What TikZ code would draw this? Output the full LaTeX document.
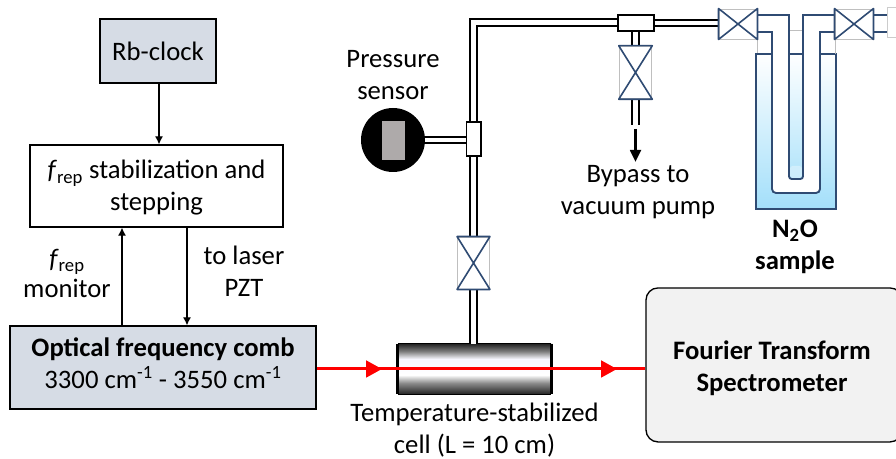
\documentclass[tikz,border=0pt]{standalone}
\usepackage{fontspec}
\setmainfont{Carlito}
\usetikzlibrary{arrows.meta, positioning}

\definecolor{boxblue}{HTML}{D6DCE5}
\definecolor{ftsgray}{HTML}{F2F2F2}
\definecolor{tubeblue}{HTML}{2F4B73}
\definecolor{dewarblue}{HTML}{A3DFFA}
\definecolor{sensorgray}{HTML}{AEAAAA}

\pgfdeclareverticalshading{cellshade}{100bp}{
  color(0bp)=(black!85); color(25bp)=(black!85); color(36bp)=(black!45);
  color(44bp)=(white); color(60bp)=(blue!3);
  color(67.5bp)=(black!50); color(75bp)=(black!85); color(100bp)=(black!85)}

\tikzset{
  txt/.style={font=\fontsize{20}{24}\selectfont, align=center, inner sep=0pt},
  box/.style={txt, draw, line width=1pt, inner sep=0pt},
  sig/.style={-{Latex[length=6pt,width=6pt]}, line width=.8pt},
  pipe/.style={double, line width=1.4pt, double distance=3.4pt},
  tee/.style={draw, fill=white, line width=1pt, inner sep=0pt},
  valve/.style={draw=black!25, fill=white, line width=.7pt, inner sep=0pt},
  tube/.style={draw=tubeblue, line width=1.4pt},
  beam/.style={red, line width=2.2pt},
  beamtip/.style={beam, -{Triangle[length=12pt,width=12.5pt]}},
}

\begin{document}
\begin{tikzpicture}[x=.75pt, y=-.75pt, on grid]
  \useasboundingbox (0,0) rectangle (896,459);

  % left column
  \node[box, fill=boxblue, minimum width=87pt, minimum height=48pt] (rb) at (158,51) {Rb-clock};
  \node[box, minimum width=189.75pt, minimum height=61.5pt, below=101.25pt of rb, xshift=-1.1pt] (stab) {};
  \node[txt, below=1.5pt of stab] (stabtxt)
    {\textit{f}\textsubscript{rep} stabilization and\\stepping};
  \node[box, fill=boxblue, minimum width=229.5pt, minimum height=62.25pt, below=136.1pt of stab, xshift=4.9pt] (comb) {};
  \node[txt, below=-3pt of comb] (combtxt)
    {\textbf{Optical frequency comb}\\3300 cm\textsuperscript{-1} - 3550 cm\textsuperscript{-1}};
  \coordinate (mon) at (122,0);
  \coordinate (pzt) at (187,0);
  \draw[sig] (rb.south -| 159,0) -- (stab.north -| 159,0);
  \draw[sig] (mon |- comb.north) -- (mon |- stab.south);
  \draw[sig] (pzt |- stab.south) -- (pzt |- comb.north);
  \node[txt] (frep) at (67,262) {\textit{f}\textsubscript{rep}};
  \node[txt] (mont) at (67,288) {monitor};
  \node[txt] (laser) at (244,271) {to laser\\PZT};

  % cell and spectrometer
  \node[draw=none, shading=cellshade, minimum width=114.75pt, minimum height=37.5pt, inner sep=0pt,
    right=233.6pt of comb, yshift=-1.1pt] (cell) {};
  \draw[line width=2pt] (cell.north west) -- (cell.south west) (cell.north east) -- (cell.south east);
  \draw[line width=.8pt] (cell.north west) -- (cell.north east) (cell.south west) -- (cell.south east);
  \node[txt, below=46pt of cell] (celltxt) {Temperature-stabilized\\cell (L = 10 cm)};
  \node[box, fill=ftsgray, rounded corners=9pt, minimum width=192pt, minimum height=115.5pt,
    right=224.6pt of cell, yshift=3pt] (fts) {};
  \node[txt, below=2.5pt of fts, xshift=-1.5pt] (ftstxt) {\textbf{Fourier Transform}\\\textbf{Spectrometer}};
  \coordinate (tipa) at (382,369);
  \coordinate (tipb) at (617,369);
  \draw[beam] (comb.east |- cell) -- (fts.west |- cell);
  \draw[beamtip] (tipa -| 360,0) -- (tipa);
  \draw[beamtip] (tipb -| 595,0) -- (tipb);

  % gas line
  \node[valve, minimum width=24pt, minimum height=39pt] (valvec) at (473.5,263) {};
  \node[tee, minimum width=11pt, minimum height=25.5pt] (teev) at (473.5,139) {};
  \node[tee, minimum width=27pt, minimum height=12pt] (teeh) at (636,23) {};
  \node[valve, minimum width=24.5pt, minimum height=39.5pt] (valveb) at (635.5,72.5) {};
  \node[valve, minimum width=28.5pt, minimum height=22.5pt] (valvel) at (738,24) {};
  \node[valve, minimum width=28.5pt, minimum height=22.5pt] (valver) at (854,24) {};
  \node[circle, fill=black, minimum size=48pt, inner sep=0pt] (sensor) at (393,140) {};
  \node[fill=sensorgray, minimum width=17.25pt, minimum height=29.25pt, inner sep=0pt] (gauge) at (393.5,140.5) {};
  \node[txt] (senstxt) at (393,75) {Pressure\\sensor};
  \coordinate (corner) at (473.5,22.5);
  \coordinate (bypass) at (635.5,125);
  \coordinate (pumpa) at (635.5,129);
  \coordinate (pumpb) at (635.5,162);
  \draw[pipe] (valvec.south) -- (valvec.south |- cell.north);
  \draw[pipe] (valvec.north) -- (teev.south);
  \draw[pipe] (teev.north) -- (corner) -- (corner -| teeh.west);
  \draw[pipe] (sensor.east) -- (sensor.east -| teev.west);
  \draw[pipe] (teeh.east) -- (teeh.east -| valvel.west);
  \draw[pipe] (teeh.south -| valveb) -- (valveb.north);
  \draw[pipe] (valveb.south) -- (bypass);
  \draw[line width=2pt, -{Triangle[length=9pt,width=8pt]}] (pumpa) -- (pumpb);
  \node[txt] (pumptxt) at (638,192) {Bypass to\\vacuum pump};

  % sample
  \node[draw=tubeblue, line width=1.4pt, top color=white, bottom color=dewarblue, minimum width=60pt,
    minimum height=116.25pt, inner sep=0pt] (dewar) at (796,131.5) {};
  \node[draw=black!25, line width=.7pt, fill=white, minimum width=10.5pt, minimum height=18pt, inner sep=0pt] (neck) at (796,42) {};
  \fill[white] (772,32) -- (772,187) [rounded corners=3pt] -- (772,193) -- (820,193) [sharp corners] -- (820,32) -- cycle;
  \fill[white] (757,39) rectangle (772,54) (820,39) rectangle (835,54);
  \draw[draw=black!25, line width=.7pt] (757,39) -- (757,54) (835,39) -- (835,54) (789,30) -- (803,30);
  \fill[top color=white, bottom color=dewarblue!85!white, rounded corners=2pt] (789,54) rectangle (803,179);
  \fill[white, opacity=.35, rounded corners=2pt] (790,166) rectangle (802,178);
  \draw[tube] (valvel.east |- 0,15) -- (789,15) -- (789,54) (valvel.east |- 0,32) -- (772,32) -- (772,54);
  \draw[tube, rounded corners=3pt] (772,54) -- (772,193) -- (820,193) -- (820,54);
  \draw[tube, rounded corners=2pt] (789,54) -- (789,179) -- (803,179) -- (803,54);
  \draw[tube] (valver.west |- 0,15) -- (803,15) -- (803,54) (valver.west |- 0,32) -- (820,32) -- (820,54);
  \draw[tube] (772,54) -- (757,54) (789,54) -- (803,54) (820,54) -- (835,54);
  \node[draw=black!20, line width=.7pt, fill=white, minimum width=18pt, minimum height=22pt, inner sep=0pt] (stub) at (899,22.5) {};
  \draw[tube] (valver.east |- 0,15) -- (stub.west |- 0,15) (valver.east |- 0,32) -- (stub.west |- 0,32);
  \node[txt] (sampletxt) at (795,247) {\textbf{N\textsubscript{2}O}\\\textbf{sample}};

  % valve crosses
  \foreach \v in {valvec, valveb}
    \draw[tube, line width=1.2pt, line join=round] (\v.north west) -- (\v.north east) -- (\v.south west) -- (\v.south east) -- cycle;
  \foreach \v in {valvel, valver}
    \draw[tube, line width=1.2pt, line join=round] (\v.north west) -- (\v.south west) -- (\v.north east) -- (\v.south east) -- cycle;
\end{tikzpicture}
\end{document}
